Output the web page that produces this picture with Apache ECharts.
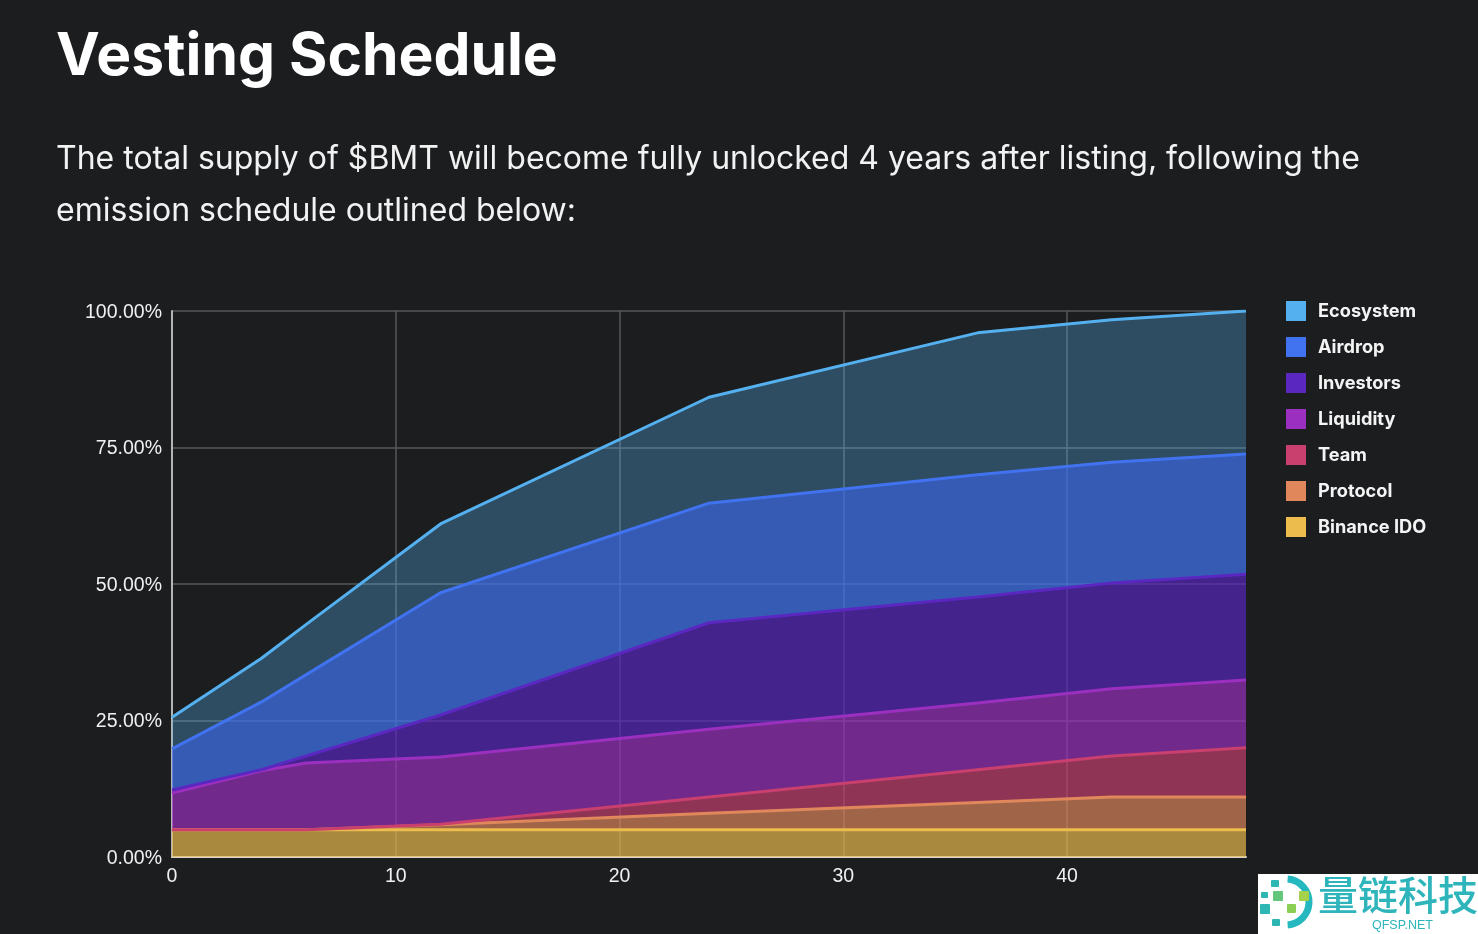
<!DOCTYPE html>
<html>
<head>
<meta charset="utf-8">
<title>Vesting Schedule</title>
<style>
html,body{margin:0;padding:0;background:#1b1d1f;}
#chart{width:1478px;height:934px;}
</style>
<script src="https://cdn.jsdelivr.net/npm/echarts@6/dist/echarts.min.js"></script>
</head>
<body>
<div id="chart"></div>
<script>
// Months since listing at which the emission curves change slope
const months = [0, 4, 6, 12, 24, 36, 42, 48];

// Share of total supply unlocked per allocation, in percent
const binanceIdo = [5, 5, 5, 5, 5, 5, 5, 5];
const protocol   = [0, 0, 0, 0.9, 3, 5, 6, 6];
const team       = [0, 0, 0, 0.1, 3, 6, 7.5, 9];
const liquidity  = [6.7, 10.8, 12.2, 12.3, 12.4, 12.2, 12.3, 12.4];
const investors  = [0.6, 0.2, 1.3, 7.7, 19.5, 19.4, 19.4, 19.4];
const airdrop    = [7.5, 12.4, 14.9, 22.4, 21.9, 22.4, 22.1, 22];
const ecosystem  = [5.8, 8, 9.2, 12.6, 19.4, 26, 26.1, 26.2];

const legendOrder = ['Ecosystem', 'Airdrop', 'Investors', 'Liquidity', 'Team', 'Protocol', 'Binance IDO'];

function layer(name, values, color, fillOpacity) {
  return {
    name: name,
    type: 'line',
    stack: 'supply',
    symbol: 'none',
    smooth: false,
    // The percentage comes first so the stack accumulates along the y axis
    data: months.map((m, i) => [values[i], m]),
    encode: { x: 1, y: 0 },
    itemStyle: { color: color },
    lineStyle: { color: color, width: 3, join: 'round' },
    areaStyle: { color: color, opacity: fillOpacity },
    emphasis: { disabled: true }
  };
}

const chart = echarts.init(document.getElementById('chart'), null, { renderer: 'canvas' });

chart.setOption({
  backgroundColor: '#1b1d1f',
  animation: false,
  textStyle: { fontFamily: '"Liberation Sans", sans-serif' },
  title: [
    {
      text: 'Vesting Schedule',
      left: 56, top: 21, padding: 0,
      textStyle: { color: '#ffffff', fontFamily: 'Inter', fontWeight: 700, fontSize: 58.7, lineHeight: 72 }
    },
    {
      text: 'The total supply of $BMT will become fully unlocked 4 years after listing, following the',
      left: 56, top: 139, padding: 0,
      textStyle: { color: '#f2f2f2', fontFamily: 'Inter', fontWeight: 400, fontSize: 32, lineHeight: 40 }
    },
    {
      text: 'emission schedule outlined below:',
      left: 56, top: 191, padding: 0,
      textStyle: { color: '#f2f2f2', fontFamily: 'Inter', fontWeight: 400, fontSize: 32, lineHeight: 40 }
    }
  ],
  legend: {
    orient: 'vertical',
    left: 1286, top: 301, padding: 0,
    data: legendOrder,
    icon: 'rect',
    itemWidth: 20, itemHeight: 20, itemGap: 16,
    selectedMode: false,
    formatter: name => '{n|' + name + '}',
    textStyle: {
      color: '#f4f4f4', fontFamily: 'Inter', fontSize: 18.2, fontWeight: 700, padding: [0, 0, 0, 7],
      rich: { n: { color: '#f4f4f4', fontFamily: 'Inter', fontSize: 18.2, fontWeight: 700, padding: [2, 0, 0, 0] } }
    }
  },
  grid: { left: 172, right: 232, top: 311, bottom: 77, containLabel: false },
  xAxis: {
    type: 'value', min: 0, max: 48, interval: 10,
    axisLine: { show: true, onZero: false, lineStyle: { color: '#d4d4d0', width: 2 } },
    axisTick: { show: false },
    axisLabel: {
      color: '#f0f0f0', fontSize: 19.5, margin: 10,
      formatter: v => (v % 10 === 0 ? String(v) : '')
    },
    splitLine: { show: true, showMaxLine: false, lineStyle: { color: '#55585a', width: 1.5 } }
  },
  yAxis: {
    type: 'value', min: 0, max: 100, interval: 25,
    axisLine: { show: true, lineStyle: { color: '#b4b4b4', width: 2 } },
    axisTick: { show: false },
    axisLabel: {
      color: '#f0f0f0', fontSize: 19.5, margin: 10,
      formatter: v => '{p|' + v.toFixed(2) + '%}',
      rich: { p: { color: '#f0f0f0', fontSize: 19.5, padding: [3, 0, 0, 0] } }
    },
    splitLine: { show: true, lineStyle: { color: '#55585a', width: 1.5 } }
  },
  series: [
    layer('Binance IDO', binanceIdo, '#ecbd4c', 0.68),
    layer('Protocol', protocol, '#e0885c', 0.68),
    layer('Team', team, '#c93f6e', 0.68),
    layer('Liquidity', liquidity, '#9b30c0', 0.68),
    layer('Investors', investors, '#5a27c0', 0.68),
    layer('Airdrop', airdrop, '#4173f0', 0.72),
    layer('Ecosystem', ecosystem, '#55b0f0', 0.33)
  ],
  graphic: [
    {
      type: 'group', left: 1258, top: 874,
      children: [
        { type: 'rect', shape: { x: 0, y: 0, width: 220, height: 60 }, style: { fill: '#ffffff' } },
        { type: 'arc', shape: { cx: 28, cy: 28, r: 23, startAngle: -1.5, endAngle: 1.5 }, style: { stroke: '#25b8bf', lineWidth: 7, fill: null } },
        { type: 'rect', shape: { x: 13, y: 6, width: 8, height: 7, r: 1 }, style: { fill: '#2cb7b5' } },
        { type: 'rect', shape: { x: 15, y: 17, width: 10, height: 10, r: 1 }, style: { fill: '#62c77c' } },
        { type: 'rect', shape: { x: 41, y: 17, width: 10, height: 10, r: 1 }, style: { fill: '#a5d24a' } },
        { type: 'rect', shape: { x: 29, y: 30, width: 9, height: 9, r: 1 }, style: { fill: '#8ccf55' } },
        { type: 'rect', shape: { x: 3, y: 18, width: 7, height: 6, r: 1 }, style: { fill: '#2cb7b5' } },
        { type: 'rect', shape: { x: 2, y: 30, width: 10, height: 10, r: 1 }, style: { fill: '#2cb7b5' } },
        { type: 'rect', shape: { x: 14, y: 45, width: 8, height: 7, r: 1 }, style: { fill: '#2cb7b5' } },
        {
          type: 'text', x: 60, y: 1,
          style: { text: '量链科技', fill: '#2db5bb', font: '500 40px "Noto Sans CJK SC"', textAlign: 'left' }
        },
        {
          type: 'text', x: 114, y: 45,
          style: { text: 'QFSP.NET', fill: '#2db5bb', font: '12.5px "Liberation Sans"', textAlign: 'left' }
        }
      ]
    }
  ]
});
</script>
</body>
</html>
